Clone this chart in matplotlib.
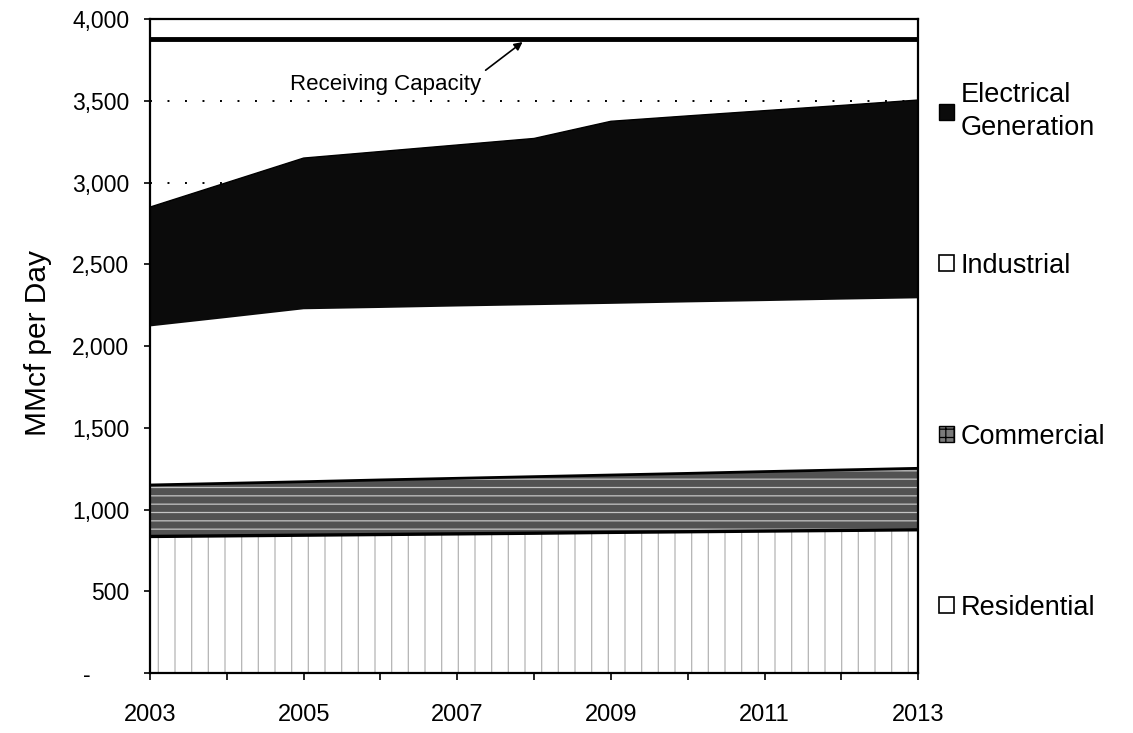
import numpy as np
import matplotlib.pyplot as plt
from matplotlib.patches import Patch

plt.rcParams["font.family"] = ["Liberation Sans", "DejaVu Sans"]
plt.rcParams["hatch.linewidth"] = 0.9

# values (MMcf per day)
years = np.arange(2003, 2014)
residential = [835, 839, 843, 847, 851, 855, 860, 864, 868, 872, 876]
commercial = [315, 321, 327, 334, 340, 346, 351, 357, 364, 370, 376]
industrial = [970, 1012, 1055, 1052, 1051, 1049, 1047, 1046, 1043, 1042, 1040]
electrical = [730, 828, 925, 957, 988, 1020, 1117, 1141, 1165, 1188, 1213]
receiving_capacity = 3880

series_labels = ["Residential", "Commercial", "Industrial", "Electrical\nGeneration"]
y_ticks = [0, 500, 1000, 1500, 2000, 2500, 3000, 3500, 4000]
y_tick_labels = ["-      ", "500", "1,000", "1,500", "2,000", "2,500", "3,000", "3,500", "4,000"]
x_tick_labels = [str(y) if (y - 2003) % 2 == 0 else "" for y in years]

fig = plt.figure(figsize=(11.33, 7.33), dpi=100)
ax = fig.add_axes([0.1324, 0.0819, 0.678, 0.892])

polys = ax.stackplot(years, residential, commercial, industrial, electrical,
                     colors=["white", "#525252", "white", "#0b0b0b"], linewidth=0)
polys[0].set_hatch("|")
polys[0].set_edgecolor("#b4b4b4")
polys[1].set_hatch("--")
polys[1].set_edgecolor("#c4c4c4")
for p in polys:
    p.set_linewidth(0)

tops = np.cumsum([residential, commercial, industrial, electrical], axis=0)
ax.plot(years, tops[0], color="black", lw=2.4)
ax.plot(years, tops[1], color="black", lw=2.0)
ax.plot(years, tops[3], color="black", lw=1.0)

ax.axhline(receiving_capacity, color="black", lw=3.5)
ax.annotate("Receiving Capacity", xy=(2007.85, 3860), xytext=(2006.06, 3600),
            fontsize=16, ha="center", va="center",
            arrowprops=dict(arrowstyle="-|>", color="black", lw=1.2,
                            mutation_scale=12, relpos=(1.0, 1.0),
                            shrinkA=2, shrinkB=0))

ax.set_xlim(2003, 2013)
ax.set_ylim(0, 4000)
ax.set_yticks(y_ticks)
ax.set_yticklabels(y_tick_labels)
ax.set_xticks(years)
ax.set_xticklabels(x_tick_labels)
ax.tick_params(axis="y", labelsize=16.5, length=4, width=1.2, pad=11)
ax.tick_params(axis="x", labelsize=17, length=5, width=1.2, pad=17)

ax.yaxis.grid(True, linestyle=(0, (1, 8)), color="black", lw=1.4)
ax.set_axisbelow(True)
for s in ax.spines.values():
    s.set_linewidth(1.6)

ax.set_ylabel("MMcf per Day", fontsize=21.5)
ax.yaxis.set_label_coords(-0.128, 0.505)

handles = [
    Patch(facecolor="#0b0b0b", edgecolor="black"),
    Patch(facecolor="white", edgecolor="black", lw=1.2),
    Patch(facecolor="#7a7a7a", edgecolor="black", hatch="++"),
    Patch(facecolor="white", edgecolor="black", lw=1.2),
]
legend_kw = dict(loc="upper left", bbox_transform=fig.transFigure, frameon=False,
                 fontsize=19.5, handlelength=0.55, handleheight=0.55,
                 handletextpad=0.25, borderpad=0, borderaxespad=0)

leg_top = ax.legend(handles[:1], series_labels[3:], bbox_to_anchor=(0.829, 0.888),
                    **legend_kw)
for t in leg_top.get_texts():
    t.set_linespacing(1.35)
ax.add_artist(leg_top)
ax.legend(handles[1:], series_labels[2::-1], bbox_to_anchor=(0.829, 0.655),
          labelspacing=5.35, **legend_kw)

fig.savefig("out.png", dpi=100)
